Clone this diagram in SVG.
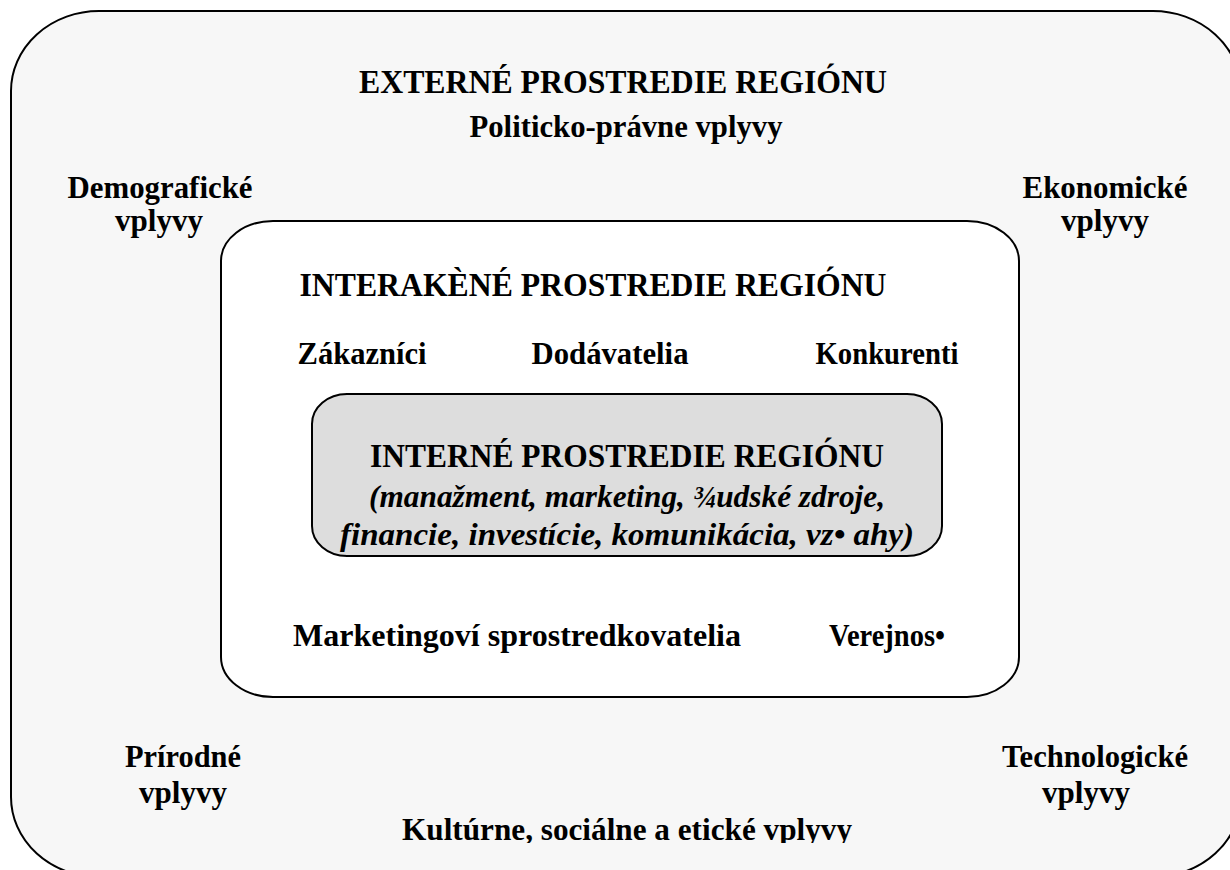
<svg xmlns="http://www.w3.org/2000/svg" width="1230" height="870" viewBox="0 0 1230 870">
<style>
.box{stroke:#000;stroke-width:2}
.t{font-family:"Liberation Serif","Times New Roman",serif;font-weight:bold;fill:#000;text-anchor:middle}
.h{font-size:33px}
.l{font-size:32px}
.i{font-size:32px;font-style:italic}
</style>
<defs>
<clipPath id="cut"><rect x="0" y="0" width="1230" height="843"/></clipPath>
</defs>
<rect width="1230" height="870" fill="#fff"/>
<g id="external">
<rect class="box" x="11" y="11" width="1230" height="866" rx="88" ry="80" fill="#f7f7f7"/>
<text class="t h" x="623" y="93" textLength="528" lengthAdjust="spacingAndGlyphs">EXTERNÉ PROSTREDIE REGIÓNU</text>
<text class="t l" x="626" y="137" textLength="313" lengthAdjust="spacingAndGlyphs">Politicko-právne vplyvy</text>
<text class="t l" x="160" y="198" textLength="185" lengthAdjust="spacingAndGlyphs">Demografické</text>
<text class="t l" x="159" y="231" textLength="88" lengthAdjust="spacingAndGlyphs">vplyvy</text>
<text class="t l" x="1105" y="198" textLength="165" lengthAdjust="spacingAndGlyphs">Ekonomické</text>
<text class="t l" x="1105" y="231" textLength="88" lengthAdjust="spacingAndGlyphs">vplyvy</text>
<text class="t l" x="183" y="767" textLength="116" lengthAdjust="spacingAndGlyphs">Prírodné</text>
<text class="t l" x="183" y="803" textLength="88" lengthAdjust="spacingAndGlyphs">vplyvy</text>
<text class="t l" x="1095" y="767" textLength="186" lengthAdjust="spacingAndGlyphs">Technologické</text>
<text class="t l" x="1086" y="803" textLength="88" lengthAdjust="spacingAndGlyphs">vplyvy</text>
<text class="t l" x="627" y="840" clip-path="url(#cut)" textLength="450" lengthAdjust="spacingAndGlyphs">Kultúrne, sociálne a etické vplyvy</text>
</g>
<g id="interaction">
<rect class="box" x="221" y="221" width="798" height="476" rx="52" ry="40" fill="#fff"/>
<text class="t h" x="593" y="296" textLength="587" lengthAdjust="spacingAndGlyphs">INTERAKÈNÉ PROSTREDIE REGIÓNU</text>
<text class="t l" x="362" y="364" textLength="129" lengthAdjust="spacingAndGlyphs">Zákazníci</text>
<text class="t l" x="610" y="364" textLength="157" lengthAdjust="spacingAndGlyphs">Dodávatelia</text>
<text class="t l" x="887" y="364" textLength="143" lengthAdjust="spacingAndGlyphs">Konkurenti</text>
<text class="t l" x="517" y="646" textLength="448" lengthAdjust="spacingAndGlyphs">Marketingoví sprostredkovatelia</text>
<text class="t l" x="887" y="646" textLength="116" lengthAdjust="spacingAndGlyphs">Verejnos•</text>
</g>
<g id="internal">
<rect class="box" x="312" y="394" width="630" height="162" rx="35" ry="30" fill="#dddddd"/>
<text class="t h" x="627" y="467" textLength="514" lengthAdjust="spacingAndGlyphs">INTERNÉ PROSTREDIE REGIÓNU</text>
<text class="t i" x="627" y="507" textLength="516" lengthAdjust="spacingAndGlyphs">(manažment, marketing, ¾udské zdroje,</text>
<text class="t i" x="627" y="545" textLength="574" lengthAdjust="spacingAndGlyphs">financie, investície, komunikácia, vz• ahy)</text>
</g>
<g id="connectors"/>
</svg>
